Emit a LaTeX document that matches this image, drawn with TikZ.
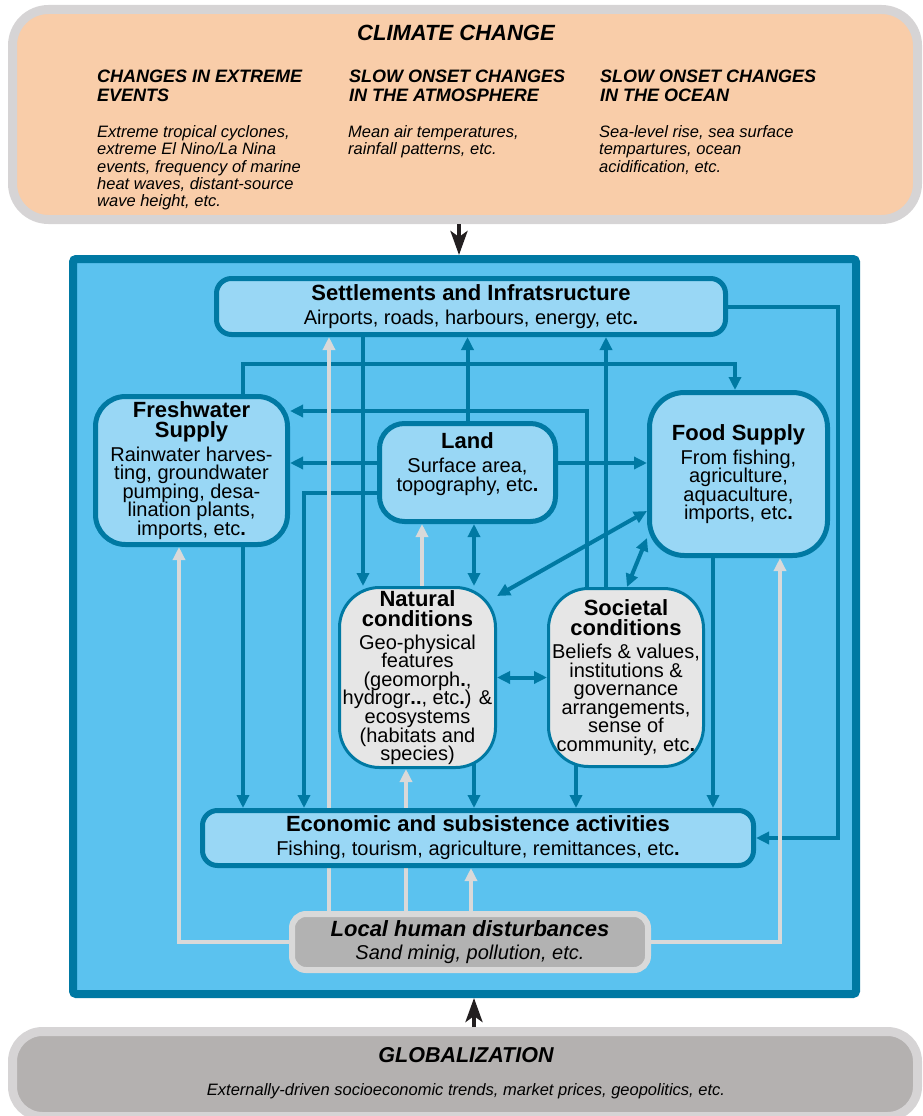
\documentclass[tikz,border=0pt]{standalone}
\usepackage{fontspec}
\setmainfont{Liberation Sans}
\usetikzlibrary{arrows.meta}

\definecolor{tealline}{RGB}{0,121,163}
\definecolor{skyfill}{RGB}{91,194,239}
\definecolor{boxfill}{RGB}{153,215,245}
\definecolor{condfill}{RGB}{230,230,230}
\definecolor{localfill}{RGB}{178,178,178}
\definecolor{lightgrey}{RGB}{217,217,217}
\definecolor{peach}{RGB}{249,205,169}
\definecolor{globfill}{RGB}{180,177,176}
\definecolor{framegrey}{RGB}{214,212,213}
\definecolor{inkblack}{RGB}{35,31,32}

\newcommand{\bodyfont}{\fontsize{20}{18.6}\selectfont\lineskiplimit=-20pt}
\newcommand{\hdfont}{\fontsize{22}{18.6}\selectfont\bfseries}
\newcommand{\capfont}{\fontsize{18}{18.4}\selectfont\bfseries\itshape}
\newcommand{\smallit}{\fontsize{16.5}{17.2}\selectfont\itshape\lineskiplimit=-20pt}

\pgfdeclarelayer{bg}
\pgfdeclarelayer{tealw}
\pgfdeclarelayer{greyw}
\pgfsetlayers{bg,tealw,greyw,main}

\tikzset{
  topic/.style={draw=tealline, line width=5pt, fill=boxfill, rounded corners=#1,
    align=center, font=\bodyfont, inner sep=2pt},
  cond/.style={draw=tealline, line width=3pt, fill=condfill, rounded corners=40pt,
    align=center, font=\bodyfont, inner sep=1pt},
  link/.style={draw=tealline, line width=4pt, >={Triangle[length=13pt,width=12pt]}},
  glink/.style={draw=lightgrey, line width=4pt, >={Triangle[length=13pt,width=12pt]}},
  push/.style={draw=inkblack, line width=4pt, -{Stealth[length=24pt,width=17pt,inset=6pt]}}
}

\begin{document}
\begin{tikzpicture}[x=1pt,y=-1pt]
		\useasboundingbox (0,0) rectangle (923,1116);
		% Klima oben
		\node[draw=framegrey, line width=9pt, fill=peach, rounded corners=36pt,
			minimum width=905pt, minimum height=210pt] (climate) at (465,114.5) {};
		\node[anchor=base, font=\fontsize{22}{22}\selectfont\bfseries\itshape] (cctitle) at (456,40.7) {CLIMATE CHANGE};
		\node[anchor=north west, inner sep=0, align=left, font=\capfont] (extremehd) at (97,70) {CHANGES IN EXTREME\\EVENTS};
		\node[anchor=north west, inner sep=0, align=left, font=\capfont] (atmoshd) at (349,70) {SLOW ONSET CHANGES\\IN THE ATMOSPHERE};
		\node[anchor=north west, inner sep=0, align=left, font=\capfont] (oceanhd) at (600,70) {SLOW ONSET CHANGES\\IN THE OCEAN};
		\node[anchor=north west, inner sep=0, align=left, font=\smallit] (extremetx) at (97,125.5) {Extreme tropical cyclones,\\extreme El Nino/La Nina\\events, frequency of marine\\heat waves, distant-source\\wave height, etc.};
		\node[anchor=north west, inner sep=0, align=left, font=\smallit] (atmostx) at (348,125.5) {Mean air temperatures,\\rainfall patterns, etc.};
		\node[anchor=north west, inner sep=0, align=left, font=\smallit] (oceantx) at (599,125.5) {Sea-level rise, sea surface\\tempartures, ocean\\acidification, etc.};
		% Globalisierung unten
		\node[draw=framegrey, line width=9pt, fill=globfill, rounded corners=30pt,
			minimum width=905pt, minimum height=85pt] (glob) at (465,1074) {};
		\node[anchor=base, font=\fontsize{21.5}{21.5}\selectfont\bfseries\itshape] (globtitle) at (466,1062.7) {GLOBALIZATION};
		\node[anchor=base, font=\smallit] (globtx) at (466,1095) {Externally-driven socioeconomic trends, market prices, geopolitics, etc.};
		% blaues System
		\begin{pgfonlayer}{bg}
			\node[draw=tealline, line width=8pt, fill=skyfill, rounded corners=3pt,
				minimum width=783pt, minimum height=735pt] (sys) at (464.5,626.5) {};
		\end{pgfonlayer}
		\node[topic=15pt, minimum width=509pt, minimum height=56pt] (settle) at (471,306.5)
			{{\hdfont Settlements and Infratsructure}\\[5.4pt]Airports, roads, harbours, energy, etc\textbf{.}};
		\node[topic=30pt, minimum width=192pt, minimum height=148pt] (fresh) at (191.5,470.5)
			{{\hdfont Freshwater}\\[1.5pt]{\hdfont Supply}\\[5pt]Rainwater harves-\\ting, groundwater\\pumping, desa-\\lination plants,\\imports, etc\textbf{.}};
		\node[topic=25pt, minimum width=176pt, minimum height=98pt] (land) at (467.5,472.5)
			{{\hdfont Land}\\[5.4pt]Surface area,\\topography, etc\textbf{.}\\[2.4pt]{}};
		\node[topic=35pt, minimum width=178pt, minimum height=163pt] (food) at (738.5,474)
			{{\hdfont Food Supply}\\[5.4pt]From fishing,\\agriculture,\\aquaculture,\\imports, etc\textbf{.}};
		\node[cond, minimum width=156pt, minimum height=180pt] (nat) at (417.5,677.5)
			{{\hdfont Natural}\\[1.5pt]{\hdfont conditions}\\[4.4pt]Geo-physical\\features\\(geomorph\textbf{.},\\hydrogr\textbf{..}, etc\textbf{.}) \&\\ecosystems\\(habitats and\\species)};
		\node[cond, minimum width=155pt, minimum height=178pt] (soc) at (626,677.5)
			{{\hdfont Societal}\\[1.5pt]{\hdfont conditions}\\[4.4pt]Beliefs \& values,\\institutions \&\\governance\\arrangements,\\sense of\\community, etc\textbf{.}};
		\node[topic=15pt, minimum width=551pt, minimum height=55pt] (econ) at (478,838)
			{{\hdfont Economic and subsistence activities}\\[5.4pt]Fishing, tourism, agriculture, remittances, etc\textbf{.}};
		\node[draw=lightgrey, line width=6pt, fill=localfill, rounded corners=14pt, align=center,
			font=\bodyfont\itshape, minimum width=356pt, minimum height=56pt] (local) at (470,942)
			{{\hdfont\itshape Local human disturbances}\\[4.4pt]Sand minig, pollution, etc.};
		% blaue Pfeile
		\begin{pgfonlayer}{tealw}
			\draw[link,->] (fresh.center -| 243,0) -- (econ.north -| 243,0);
			\draw[link,->] (fresh.center -| 243,0) -- (243,364) -| (food.north -| 735,0);
			\draw[link,->] (settle.center -| 363,0) -- (nat.north -| 363,0);
			\draw[link,->] (settle.center) -- (settle.center -| 838,0) |- (econ.east);
			\draw[link,->] (land.center) -- (land.center |- settle.south);
			\draw[link,->] (land.center |- 0,463) -- (fresh.east |- 0,463);
			\draw[link,->] (land.center |- 0,463) -- (food.west |- 0,463);
			\draw[link,->] (land.center |- 0,493) -- (304,493) -- (econ.north -| 304,0);
			\draw[link,<->] (land.south -| 474,0) -- (nat.north -| 474,0);
			\draw[link,->] (soc.center -| 587,0) -- (587,411) -- (fresh.east |- 0,411);
			\draw[link,->] (soc.center -| 606,0) -- (settle.south -| 606,0);
			\draw[link,<->] (soc.north -| 627,0) -- (food.west |- 0,538);
			\draw[link,<->] (nat.east |- 0,596) -- (food.west |- 0,511);
			\draw[link,<->] (nat.east) -- (soc.west);
			\draw[link,->] (nat.center -| 474,0) -- (econ.north -| 474,0);
			\draw[link,->] (soc.center -| 576,0) -- (econ.north -| 576,0);
			\draw[link,->] (food.center -| 713,0) -- (econ.north -| 713,0);
		\end{pgfonlayer}
		% graue Pfeile
		\begin{pgfonlayer}{greyw}
			\draw[glink,->] (local.center) -| (fresh.south -| 179,0);
			\draw[glink,->] (local.center -| 329,0) -- (settle.south -| 329,0);
			\draw[glink,->] (local.center -| 406,0) -- (nat.south -| 406,0);
			\draw[glink,->] (nat.center -| 422,0) -- (land.south -| 422,0);
			\draw[glink,->] (local.center -| 471,0) -- (econ.south -| 471,0);
			\draw[glink,->] (local.center) -| (food.south -| 780,0);
		\end{pgfonlayer}
		% schwarze Pfeile
		\draw[push] (climate.south -| 459,0) -- (sys.north -| 459,0);
		\draw[push] (glob.north -| 474,0) -- (sys.south -| 474,0);
\end{tikzpicture}
\end{document}
